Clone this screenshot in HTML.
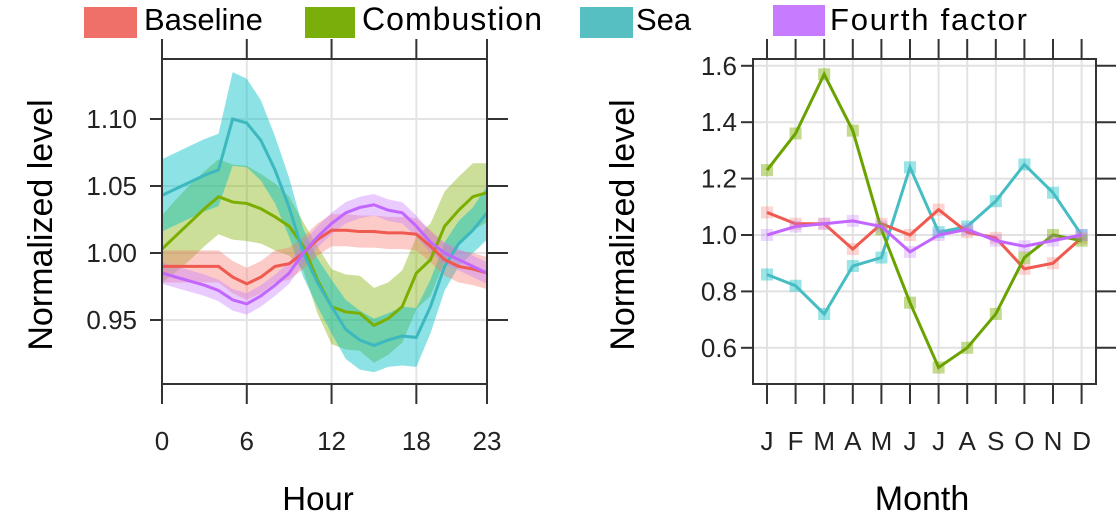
<!DOCTYPE html>
<html><head><meta charset="utf-8"><style>
html,body{margin:0;padding:0;background:#fff;}
svg{display:block;font-family:"Liberation Sans",sans-serif;}
</style></head><body>
<svg id="chart" width="1118" height="514" viewBox="0 0 1118 514">
  <g id="legend">
    <g><rect x="84" y="7" width="53" height="31" fill="#EE7068"/><text x="144" y="30" font-size="31" fill="#000">Baseline</text></g>
    <g><rect x="305" y="7" width="50" height="31" fill="#7AAE0A"/><text x="362" y="30" font-size="32" textLength="180" fill="#000">Combustion</text></g>
    <g><rect x="580" y="7" width="53" height="31" fill="#55BFC2"/><text x="636" y="30" font-size="31" fill="#000">Sea</text></g>
    <g><rect x="773" y="5" width="52" height="31" fill="#C77CFF"/><text x="830" y="30" font-size="31" textLength="197" fill="#000">Fourth factor</text></g>
  </g>
  <g id="left"></g>
  <g id="right"></g>
</svg>
<script>
const hours = [0,1,2,3,4,5,6,7,8,9,10,11,12,13,14,15,16,17,18,19,20,21,22,23];
const hourTicks = [0,6,12,18,23];
const hourYTicks = [0.95,1.00,1.05,1.10];
const seaHour = [1.043,1.048,1.053,1.058,1.062,1.100,1.097,1.084,1.062,1.034,1.000,0.978,0.960,0.943,0.935,0.931,0.935,0.938,0.937,0.960,0.990,1.007,1.017,1.030];
const seaErr  = [0.027,0.027,0.027,0.027,0.027,0.035,0.033,0.030,0.025,0.022,0.018,0.018,0.020,0.022,0.022,0.020,0.020,0.022,0.022,0.020,0.018,0.017,0.017,0.020];
const combHour = [1.003,1.013,1.023,1.033,1.042,1.038,1.037,1.033,1.027,1.020,1.005,0.980,0.960,0.956,0.955,0.946,0.951,0.960,0.985,0.995,1.020,1.032,1.042,1.045];
const combErr  = [0.025,0.027,0.028,0.028,0.028,0.028,0.028,0.026,0.025,0.022,0.018,0.025,0.028,0.028,0.028,0.028,0.027,0.027,0.027,0.027,0.026,0.025,0.025,0.022];
const baseHour = [0.990,0.990,0.990,0.990,0.990,0.982,0.977,0.982,0.990,0.992,1.000,1.010,1.017,1.017,1.016,1.016,1.015,1.015,1.014,1.005,0.995,0.990,0.988,0.985];
const baseErr  = [0.012,0.012,0.012,0.012,0.012,0.012,0.012,0.012,0.012,0.012,0.012,0.012,0.012,0.012,0.012,0.012,0.012,0.012,0.012,0.012,0.012,0.012,0.012,0.012];
const fourHour = [0.985,0.982,0.979,0.976,0.972,0.965,0.962,0.968,0.976,0.985,1.000,1.012,1.022,1.030,1.034,1.036,1.032,1.030,1.020,1.008,1.000,0.995,0.990,0.985];
const fourErr  = [0.008,0.008,0.008,0.008,0.008,0.008,0.008,0.008,0.008,0.008,0.008,0.008,0.008,0.008,0.008,0.008,0.008,0.008,0.008,0.008,0.008,0.008,0.008,0.008];

const months = ["J","F","M","A","M","J","J","A","S","O","N","D"];
const monthYTicks = [0.6,0.8,1.0,1.2,1.4,1.6];
const combMonth = [1.23,1.36,1.57,1.37,1.02,0.76,0.53,0.60,0.72,0.92,1.00,0.98];
const seaMonth  = [0.86,0.82,0.72,0.89,0.92,1.24,1.01,1.03,1.12,1.25,1.15,1.00];
const baseMonth = [1.08,1.04,1.04,0.95,1.04,1.00,1.09,1.01,0.99,0.88,0.90,0.99];
const fourMonth = [1.00,1.03,1.04,1.05,1.03,0.94,1.00,1.02,0.98,0.96,0.98,1.00];

const NS="http://www.w3.org/2000/svg";
function mk(parent,tag,attrs){const e=document.createElementNS(NS,tag);for(const k in attrs)e.setAttribute(k,attrs[k]);parent.appendChild(e);return e;}

// Left panel
const L=document.getElementById('left');
const lx0=162,lx1=487,ly0=59,ly1=384;
const hx=h=>lx0+(h/23)*(lx1-lx0);
const hy=v=>253-(v-1.0)/0.05*67;
hourTicks.forEach(t=>{const g=mk(L,'line',{x1:hx(t),x2:hx(t),y1:ly0,y2:ly1,stroke:'#e4e4e4','stroke-width':2});

});
hourYTicks.forEach(t=>{const g=mk(L,'line',{x1:lx0,x2:lx1,y1:hy(t),y2:hy(t),stroke:'#e4e4e4','stroke-width':2});

});
const hs=[[combHour,combErr,'#7CAE00','rgba(124,174,0,0.4)','combustion'],[seaHour,seaErr,'#3DB8BE','rgba(0,191,196,0.45)','sea'],[baseHour,baseErr,'#F0594F','rgba(248,118,109,0.38)','baseline'],[fourHour,fourErr,'#C266FF','rgba(199,124,255,0.4)','fourth-factor']];
hs.forEach(([m,e,c,f,n])=>{
  let d='';hours.forEach((h,i)=>{d+=(i?'L':'M')+hx(h)+','+hy(m[i]+e[i]);});
  for(let i=hours.length-1;i>=0;i--)d+='L'+hx(hours[i])+','+hy(m[i]-e[i]);
  const b=mk(L,'path',{d:d+'Z',fill:f});
  
  
});
hs.forEach(([m,e,c,f,n])=>{
  const p=mk(L,'polyline',{points:hours.map((h,i)=>hx(h)+','+hy(m[i])).join(' '),fill:'none',stroke:c,'stroke-width':3});
  
  
});
mk(L,'rect',{x:lx0,y:ly0,width:lx1-lx0,height:ly1-ly0,fill:'none',stroke:'#333','stroke-width':2});
hourTicks.forEach(t=>{mk(L,'line',{x1:hx(t),x2:hx(t),y1:ly1,y2:ly1+20,stroke:'#333','stroke-width':2});mk(L,'line',{x1:hx(t),x2:hx(t),y1:ly0-20,y2:ly0,stroke:'#333','stroke-width':2});
const tl=mk(L,'text',{x:hx(t),y:450,'font-size':26,'text-anchor':'middle',fill:'#222'});tl.textContent=t;

});
hourYTicks.forEach(t=>{mk(L,'line',{x1:lx0-12,x2:lx0,y1:hy(t),y2:hy(t),stroke:'#333','stroke-width':2});mk(L,'line',{x1:lx1,x2:lx1+21,y1:hy(t),y2:hy(t),stroke:'#333','stroke-width':2});
const tl=mk(L,'text',{x:137,y:hy(t)+9,'font-size':26,'text-anchor':'end',fill:'#222'});tl.textContent=t.toFixed(2);

});
let t1=mk(L,'text',{x:0,y:0,'font-size':34,'text-anchor':'middle',transform:'translate(52,225) rotate(-90)'});t1.textContent='Normalized level';


let t2=mk(L,'text',{x:318,y:510,'font-size':33,'text-anchor':'middle'});t2.textContent='Hour';



// Right panel
const R=document.getElementById('right');
const rx0=753,rx1=1096,ry0=59,ry1=384;
const mx=i=>767+i*28.6;
const my=v=>235-(v-1.0)/0.2*56.4;
months.forEach((m,i)=>{const g=mk(R,'line',{x1:mx(i),x2:mx(i),y1:ry0,y2:ry1,stroke:'#e2e2e2','stroke-width':2});

});
monthYTicks.forEach(t=>{const g=mk(R,'line',{x1:rx0,x2:rx1,y1:my(t),y2:my(t),stroke:'#e2e2e2','stroke-width':2});

});
const ms=[[seaMonth,'#45BDC2','rgba(0,191,196,0.4)','sea'],[baseMonth,'#F0594F','rgba(248,118,109,0.3)','baseline'],[combMonth,'#6AA300','rgba(124,174,0,0.45)','combustion'],[fourMonth,'#C266FF','rgba(199,124,255,0.3)','fourth-factor']];
ms.forEach(([v,c,f,n])=>{
  v.forEach((val,i)=>{const r=mk(R,'rect',{x:mx(i)-6,y:my(val)-6,width:12,height:12,fill:f});
  
  });
  const p=mk(R,'polyline',{points:v.map((val,i)=>mx(i)+','+my(val)).join(' '),fill:'none',stroke:c,'stroke-width':3});
  
  
});
mk(R,'rect',{x:rx0,y:ry0,width:rx1-rx0,height:ry1-ry0,fill:'none',stroke:'#333','stroke-width':2});
months.forEach((m,i)=>{mk(R,'line',{x1:mx(i),x2:mx(i),y1:ry1,y2:ry1+20,stroke:'#333','stroke-width':2});mk(R,'line',{x1:mx(i),x2:mx(i),y1:ry0-20,y2:ry0,stroke:'#333','stroke-width':2});
const tl=mk(R,'text',{x:mx(i),y:450,'font-size':26,'text-anchor':'middle',fill:'#222'});tl.textContent=m;

});
monthYTicks.forEach(t=>{mk(R,'line',{x1:rx0-12,x2:rx0,y1:my(t),y2:my(t),stroke:'#333','stroke-width':2});mk(R,'line',{x1:rx1,x2:rx1+20,y1:my(t),y2:my(t),stroke:'#333','stroke-width':2});
const tl=mk(R,'text',{x:737,y:my(t)+9,'font-size':26,'text-anchor':'end',fill:'#222'});tl.textContent=t.toFixed(1);

});
let t3=mk(R,'text',{x:0,y:0,'font-size':34,'text-anchor':'middle',transform:'translate(634,225) rotate(-90)'});t3.textContent='Normalized level';


let t4=mk(R,'text',{x:922,y:510,'font-size':34,'text-anchor':'middle'});t4.textContent='Month';


</script>
</body></html>
